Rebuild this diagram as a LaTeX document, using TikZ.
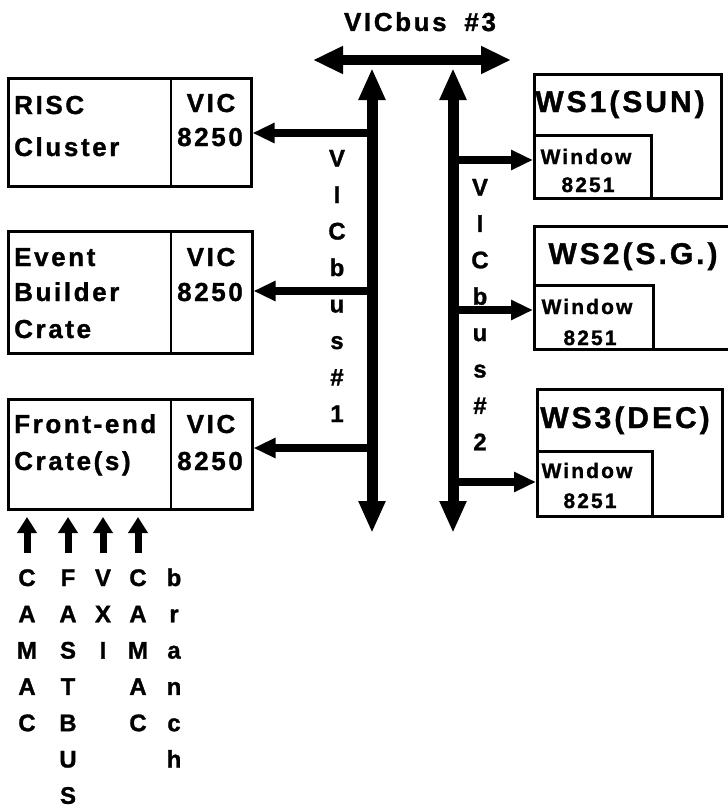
\documentclass[tikz,border=0pt]{standalone}
\usepackage{fontspec}
\setmainfont{Liberation Sans}[UprightFont=* Bold, LetterSpace=10, FakeBold=1.2]
\usetikzlibrary{arrows.meta}
\begin{document}
\begin{tikzpicture}[x=1bp,y=-1bp,
  box/.style={draw, line width=2.5bp, inner sep=0pt, anchor=north west},
  divider/.style={line width=2bp},
  lbl/.style={inner sep=0pt, font=\fontsize{26bp}{26bp}\selectfont},
  big/.style={inner sep=0pt, font=\fontsize{30bp}{30bp}\selectfont},
  win/.style={inner sep=0pt, font=\fontsize{21bp}{21bp}\selectfont},
  vert/.style={inner sep=0pt, anchor=base, font=\fontsize{24bp}{24bp}\selectfont},
  busarrow/.style={line width=11bp, {Triangle[width=25bp,length=32bp]}-{Triangle[width=25bp,length=32bp]}},
  toparrow/.style={line width=10bp, {Triangle[width=26bp,length=30bp]}-{Triangle[width=26bp,length=30bp]}},
  branch/.style={line width=8bp, -{Triangle[width=19bp,length=22bp]}},
  inarrow/.style={line width=7bp, -{Triangle[width=19bp,length=16bp]}}
]
\useasboundingbox (0,0) rectangle (728,810);

% ---------- left boxes ----------
\node[box, minimum width=243bp, minimum height=108bp] (risc) at (7,77) {};
\draw[divider] (171,77) -- (171,185);
\node[lbl, anchor=base west] (riscA) at (14,114) {RISC};
\node[lbl, anchor=base west] (riscB) at (14,156) {Cluster};
\node[lbl, anchor=base] (riscV) at (211,112) {VIC};
\node[lbl, anchor=base] (riscN) at (210,146) {8250};

\node[box, minimum width=244bp, minimum height=122bp] (event) at (7,230) {};
\draw[divider] (171,230) -- (171,352);
\node[lbl, anchor=base west] (evA) at (14,266) {Event};
\node[lbl, anchor=base west] (evB) at (14,301) {Builder};
\node[lbl, anchor=base west] (evC) at (14,338) {Crate};
\node[lbl, anchor=base] (evV) at (211,266) {VIC};
\node[lbl, anchor=base] (evN) at (210,301) {8250};

\node[box, minimum width=244bp, minimum height=110bp] (front) at (7,398) {};
\draw[divider] (171,398) -- (171,508);
\node[lbl, anchor=base west] (frA) at (14,433) {Front-end};
\node[lbl, anchor=base west] (frB) at (14,470) {Crate(s)};
\node[lbl, anchor=base] (frV) at (211,433) {VIC};
\node[lbl, anchor=base] (frN) at (210,470) {8250};

% ---------- right boxes ----------
\node[box, minimum width=187bp, minimum height=124bp] (ws1) at (533,73) {};
\node[box, minimum width=117bp, minimum height=63bp] (win1) at (533,134) {};
\node[big, anchor=base] (ws1t) at (620,112) {WS1(SUN)};
\node[win, anchor=base] (win1a) at (586,164) {Window};
\node[win, anchor=base] (win1b) at (588,192) {8251};

\node[box, minimum width=205bp, minimum height=123bp] (ws2) at (533,225) {};
\node[box, minimum width=119bp, minimum height=64bp] (win2) at (533,284) {};
\node[big, anchor=base] (ws2t) at (633,264) {WS2(S.G.)};
\node[win, anchor=base] (win2a) at (587,314) {Window};
\node[win, anchor=base] (win2b) at (590,345) {8251};

\node[box, minimum width=185bp, minimum height=127bp] (ws3) at (536,388) {};
\node[box, minimum width=115bp, minimum height=65bp] (win3) at (536,450) {};
\node[big, anchor=base] (ws3t) at (625,428) {WS3(DEC)};
\node[win, anchor=base] (win3a) at (587,478) {Window};
\node[win, anchor=base] (win3b) at (590,508) {8251};

% ---------- buses ----------
\node[lbl, anchor=base] (b3t) at (420,31) {VICbus\hspace{8bp} \#3};
\coordinate (b3L) at (313,60);
\coordinate (b3R) at (511,60);
\draw[toparrow] (b3L) -- (b3R);

\coordinate (b1T) at (372,68);
\coordinate (b1B) at (372,533);
\coordinate (b2T) at (453,68);
\coordinate (b2B) at (453,533);
\draw[busarrow] (b1T) -- (b1B);
\draw[busarrow] (b2T) -- (b2B);

% branches from bus #1
\coordinate (j1) at (372,133);
\coordinate (j2) at (372,291);
\coordinate (j3) at (372,448);
\draw[branch] (j1) -- (risc.east |- j1);
\draw[branch] (j2) -- (event.east |- j2);
\draw[branch] (j3) -- (front.east |- j3);

% branches from bus #2
\coordinate (k1) at (453,160);
\coordinate (k2) at (453,310);
\coordinate (k3) at (453,482);
\draw[branch] (k1) -- (win1.west |- k1);
\draw[branch] (k2) -- (win2.west |- k2);
\draw[branch] (k3) -- (win3.west |- k3);

% bus labels
\foreach \c [count=\i from 0] in {V,I,C,b,u,s,\#,1}
  \node[vert] (bl1-\i) at (337,{166.5+36.5*\i}) {\c};
\foreach \c [count=\i from 0] in {V,I,C,b,u,s,\#,2}
  \node[vert] (bl2-\i) at (480,{195.5+36.4*\i}) {\c};

% ---------- inputs to front-end crate ----------
\foreach \x/\n in {27/a,68/b,103/c,138/d} {
  \coordinate (in\n) at (\x,553);
  \draw[inarrow] (in\n) -- (\x,517);
}
\foreach \c [count=\i from 0] in {C,A,M,A,C}
  \node[vert] (c1-\i) at (27,{586+36.3*\i}) {\c};
\foreach \c [count=\i from 0] in {F,A,S,T,B,U,S}
  \node[vert] (c2-\i) at (68,{586+36.3*\i}) {\c};
\foreach \c [count=\i from 0] in {V,X,I}
  \node[vert] (c3-\i) at (103,{586+36.3*\i}) {\c};
\foreach \c [count=\i from 0] in {C,A,M,A,C}
  \node[vert] (c4-\i) at (138,{586+36.3*\i}) {\c};
\foreach \c [count=\i from 0] in {b,r,a,n,c,h}
  \node[vert] (c5-\i) at (174,{586+36.3*\i}) {\c};
\end{tikzpicture}
\end{document}
